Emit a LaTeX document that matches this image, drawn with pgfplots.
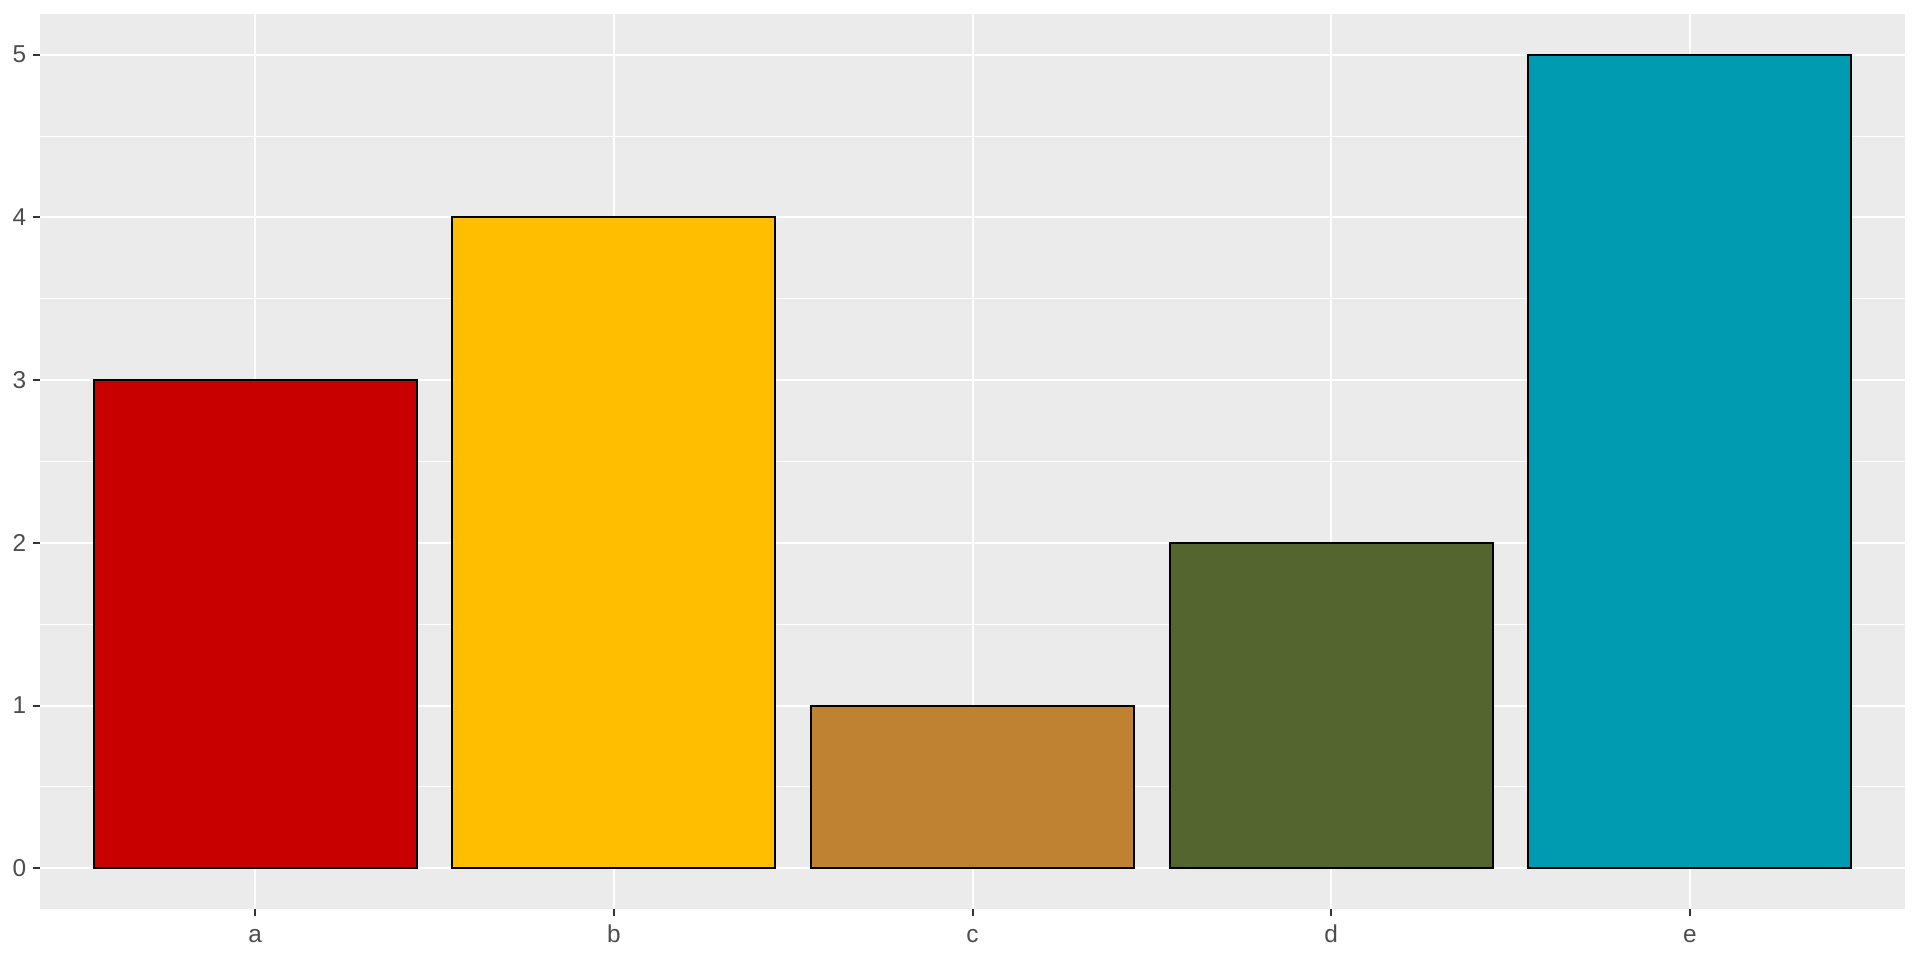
\documentclass[border=0pt]{standalone}
\usepackage{pgfplots}
\pgfplotsset{compat=1.18}
\usepackage{fontspec}
\setmainfont{Liberation Sans}
\definecolor{panelbg}{HTML}{EBEBEB}
\definecolor{ticktext}{HTML}{4D4D4D}
\definecolor{tickcol}{HTML}{333333}
\definecolor{ca}{HTML}{C80000}
\definecolor{cb}{HTML}{FFBE00}
\definecolor{cc}{HTML}{BE8232}
\definecolor{cd}{HTML}{556530}
\definecolor{ce}{HTML}{009BB0}
\begin{document}
\begin{tikzpicture}
\useasboundingbox (0,0) rectangle (960bp,480bp);
\begin{axis}[
  at={(20bp,25.5bp)}, anchor=south west,
  scale only axis, width=932.5bp, height=447.5bp,
  xmin=0.4, xmax=5.6, ymin=-0.25, ymax=5.25,
  xtick={1,2,3,4,5}, xticklabels={a,b,c,d,e},
  ytick={0,1,2,3,4,5},
  minor ytick={0.5,1.5,2.5,3.5,4.5},
  xtick pos=lower, ytick pos=left,
  axis background/.style={fill=panelbg},
  axis line style={draw=none},
  xmajorgrids, ymajorgrids, yminorgrids,
  major grid style={white, line width=1bp},
  minor grid style={white, line width=0.5bp},
  tick align=outside, major tick length=3.5bp,
  tick style={draw=none},
  minor tick length=0pt,
  tick label style={font=\fontsize{12.2bp}{14bp}\selectfont, text=ticktext},
  /pgf/number format/assume math mode=true,
  yticklabel style={anchor=east, inner sep=0pt, xshift=-3.2bp},
  xticklabel style={anchor=base, inner sep=0pt, yshift=-13bp},
  clip=false,
  ybar, bar width=0.9, bar shift=0pt,
  every axis plot/.append style={draw=black, line width=1bp},
]
\addplot[fill=ca] coordinates {(1,3)};
\addplot[fill=cb] coordinates {(2,4)};
\addplot[fill=cc] coordinates {(3,1)};
\addplot[fill=cd] coordinates {(4,2)};
\addplot[fill=ce] coordinates {(5,5)};
\pgfplotsinvokeforeach{0,...,5}{\draw[tickcol, line width=1bp] (axis cs:0.4,#1) -- ([xshift=-3.5bp]axis cs:0.4,#1);}
\pgfplotsinvokeforeach{1,...,5}{\draw[tickcol, line width=1bp] (axis cs:#1,-0.25) -- ([yshift=-3.5bp]axis cs:#1,-0.25);}
\end{axis}
\end{tikzpicture}
\end{document}
